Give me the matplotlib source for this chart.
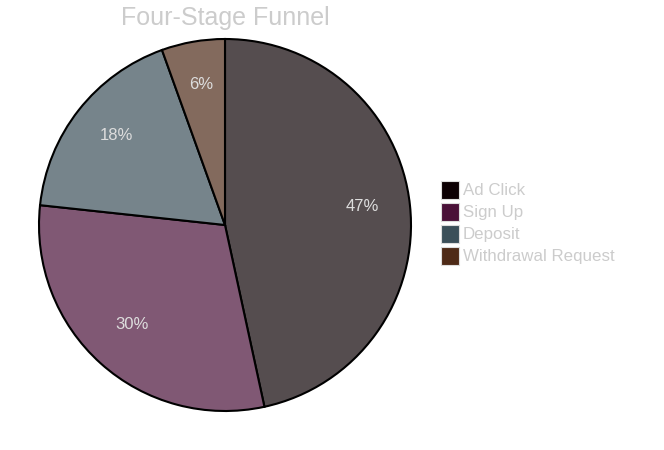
import matplotlib
matplotlib.use("Agg")
import matplotlib.pyplot as plt
from matplotlib.patches import Rectangle

plt.rcParams['font.family'] = ['Liberation Sans', 'DejaVu Sans']

title = "Four-Stage Funnel"
categories = ["Ad Click", "Sign Up", "Deposit", "Withdrawal Request"]
values = [46.6, 30.1, 17.8, 5.5]
base_colors = ["#0c0003", "#4a1138", "#3b4f59", "#4e2a17"]
alpha = 0.7

def blend(hexc, a):
    h = hexc.lstrip('#')
    rgb = [int(h[i:i+2], 16) / 255 for i in (0, 2, 4)]
    return tuple(1 - a * (1 - c) for c in rgb)

W, H = 664, 450
fig = plt.figure(figsize=(W / 100, H / 100), dpi=100)
cx, cy, r = 225, 225, 186
ax = fig.add_axes([(cx - r) / W, (H - cy - r) / H, 2 * r / W, 2 * r / H])
wedges, texts, autotexts = ax.pie(
    values,
    colors=[blend(c, alpha) for c in base_colors],
    startangle=90, counterclock=False,
    autopct='%1.0f%%', pctdistance=0.745,
    wedgeprops=dict(edgecolor='black', linewidth=1.5),
    textprops=dict(color='#dddddd', fontsize=12),
)
for t in autotexts:
    x, y = t.get_position()
    t.set_position((x, y + 3.5 / r))
ax.set_xlim(-1, 1)
ax.set_ylim(-1, 1)
ax.set_aspect('equal')
for w in wedges:
    w.set_clip_on(False)
ax.axis('off')

fig.text(cx / W, 1 - 18 / H, title, ha='center', va='center',
         fontsize=18, color='#cccccc')

# legend
lx, ly0, step, sz = 441, 181, 22, 18
for i, (cat, col) in enumerate(zip(categories, base_colors)):
    y = ly0 + i * step
    fig.patches.append(Rectangle((lx / W, 1 - (y + sz) / H), sz / W, sz / H,
                                 transform=fig.transFigure, facecolor=col,
                                 edgecolor='#dddddd', linewidth=0.8))
    fig.text((lx + sz + 4) / W, 1 - (y + sz / 2 + 0.5) / H, cat, ha='left',
             va='center', fontsize=12.15, color='#cccccc')

fig.savefig("out.png", dpi=100)
